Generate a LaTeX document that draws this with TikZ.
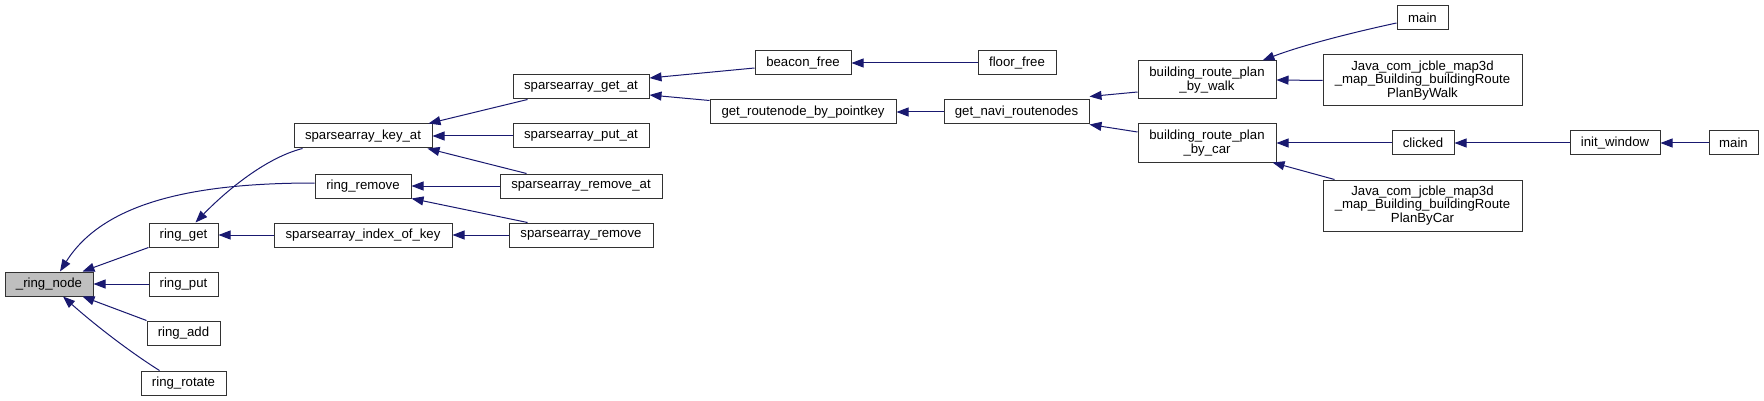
\documentclass[tikz,border=0pt]{standalone}
\usepackage{fontspec}
\setmainfont{Liberation Sans}
\usetikzlibrary{arrows.meta}
\definecolor{edgeblue}{RGB}{25,25,112}
\definecolor{boxline}{RGB}{50,50,50}
\definecolor{hlfill}{RGB}{191,191,191}
\begin{document}
\begin{tikzpicture}[x=1pt,y=-1pt,
  box/.style={draw=boxline,line width=1pt,fill=white,inner sep=0pt,minimum height=24pt,align=center,font=\fontsize{13.2}{13.6}\selectfont},
  hl/.style={box,fill=hlfill},
  edge/.style={draw=edgeblue,line width=1pt,-{Triangle[length=12pt,width=9pt]}},
]
\useasboundingbox (0,0) rectangle (1764,401);
% nodes
\node[hl,minimum width=88pt] (rn) at (49,284) {\_ring\_node};
\node[box,minimum width=69pt] (rget) at (183.5,235) {ring\_get};
\node[box,minimum width=69pt] (rput) at (183.5,284) {ring\_put};
\node[box,minimum width=73pt] (radd) at (183.5,333) {ring\_add};
\node[box,minimum width=85pt] (rrot) at (183.5,383) {ring\_rotate};
\node[box,minimum width=138pt] (keyat) at (363,136) {sparsearray\_key\_at};
\node[box,minimum width=96pt] (rrem) at (363,186) {ring\_remove};
\node[box,minimum width=178pt] (idx) at (363,235) {sparsearray\_index\_of\_key};
\node[box,minimum width=136pt] (getat) at (581,87) {sparsearray\_get\_at};
\node[box,minimum width=136pt] (putat) at (581,136) {sparsearray\_put\_at};
\node[box,minimum width=162pt] (remat) at (581,186) {sparsearray\_remove\_at};
\node[box,minimum width=144pt] (rem) at (581,235) {sparsearray\_remove};
\node[box,minimum width=96pt] (beacon) at (803,63) {beacon\_free};
\node[box,minimum width=186pt] (routenode) at (803,112) {get\_routenode\_by\_pointkey};
\node[box,minimum width=78pt] (floor) at (1017,63) {floor\_free};
\node[box,minimum width=145pt] (navi) at (1016.5,112) {get\_navi\_routenodes};
\node[box,minimum width=138pt,minimum height=38pt] (walk) at (1207,80) {building\_route\_plan\\\_by\_walk};
\node[box,minimum width=138pt,minimum height=38pt] (car) at (1207,143) {building\_route\_plan\\\_by\_car};
\node[box,minimum width=51pt] (mainA) at (1422.5,18) {main};
\node[box,minimum width=199pt,minimum height=51pt] (jwalk) at (1422.5,80.5) {Java\_com\_jcble\_map3d\\\_map\_Building\_buildingRoute\\PlanByWalk};
\node[box,minimum width=62pt] (clicked) at (1423,143) {clicked};
\node[box,minimum width=199pt,minimum height=51pt] (jcar) at (1422.5,205.5) {Java\_com\_jcble\_map3d\\\_map\_Building\_buildingRoute\\PlanByCar};
\node[box,minimum width=90pt] (initw) at (1615,143) {init\_window};
\node[box,minimum width=49pt] (mainB) at (1733.5,143) {main};
% edges
\draw[edge] (rget.south west) -- ([xshift=-11pt]rn.north east);
\draw[edge] (rput.west) -- (rn.east);
\draw[edge] (radd.north west) -- ([xshift=-11pt]rn.south east);
\draw[edge] ([xshift=19pt]rrot.north west) .. controls (130,352) and (95,325) .. ([xshift=14pt]rn.south);
\draw[edge] ([yshift=3pt]rrem.west) .. controls (200,183) and (105,200) .. ([xshift=11pt]rn.north);
\draw[edge] ([xshift=9pt]keyat.south west) .. controls (265,158) and (225,192) .. ([xshift=12pt]rget.north);
\draw[edge] (idx.west) -- (rget.east);
\draw[edge] ([xshift=15pt]getat.south west) -- ([xshift=-4pt]keyat.north east);
\draw[edge] (putat.west) -- (keyat.east);
\draw[edge] ([xshift=27pt]remat.north west) -- ([xshift=-5pt]keyat.south east);
\draw[edge] (remat.west) -- (rrem.east);
\draw[edge] ([xshift=19pt]rem.north west) -- (rrem.south east);
\draw[edge] (rem.west) -- (idx.east);
\draw[edge] ([yshift=-5pt]beacon.west) -- ([yshift=9pt]getat.east);
\draw[edge] ([yshift=-1pt]routenode.north west) -- ([yshift=-8pt]getat.east);
\draw[edge] (floor.west) -- (beacon.east);
\draw[edge] (navi.west) -- (routenode.east);
\draw[edge] ([yshift=-12pt]walk.west) -- ([yshift=3pt]navi.north east);
\draw[edge] ([yshift=11pt]car.west) -- (navi.south east);
\draw[edge] ([yshift=-5pt]mainA.west) .. controls (1350,33) and (1300,46) .. ([xshift=-14pt]walk.north east);
\draw[edge] (jwalk.west) -- (walk.east);
\draw[edge] (clicked.west) -- (car.east);
\draw[edge] ([xshift=12pt]jcar.north west) -- ([xshift=-4pt]car.south east);
\draw[edge] (initw.west) -- (clicked.east);
\draw[edge] (mainB.west) -- (initw.east);
\end{tikzpicture}
\end{document}
